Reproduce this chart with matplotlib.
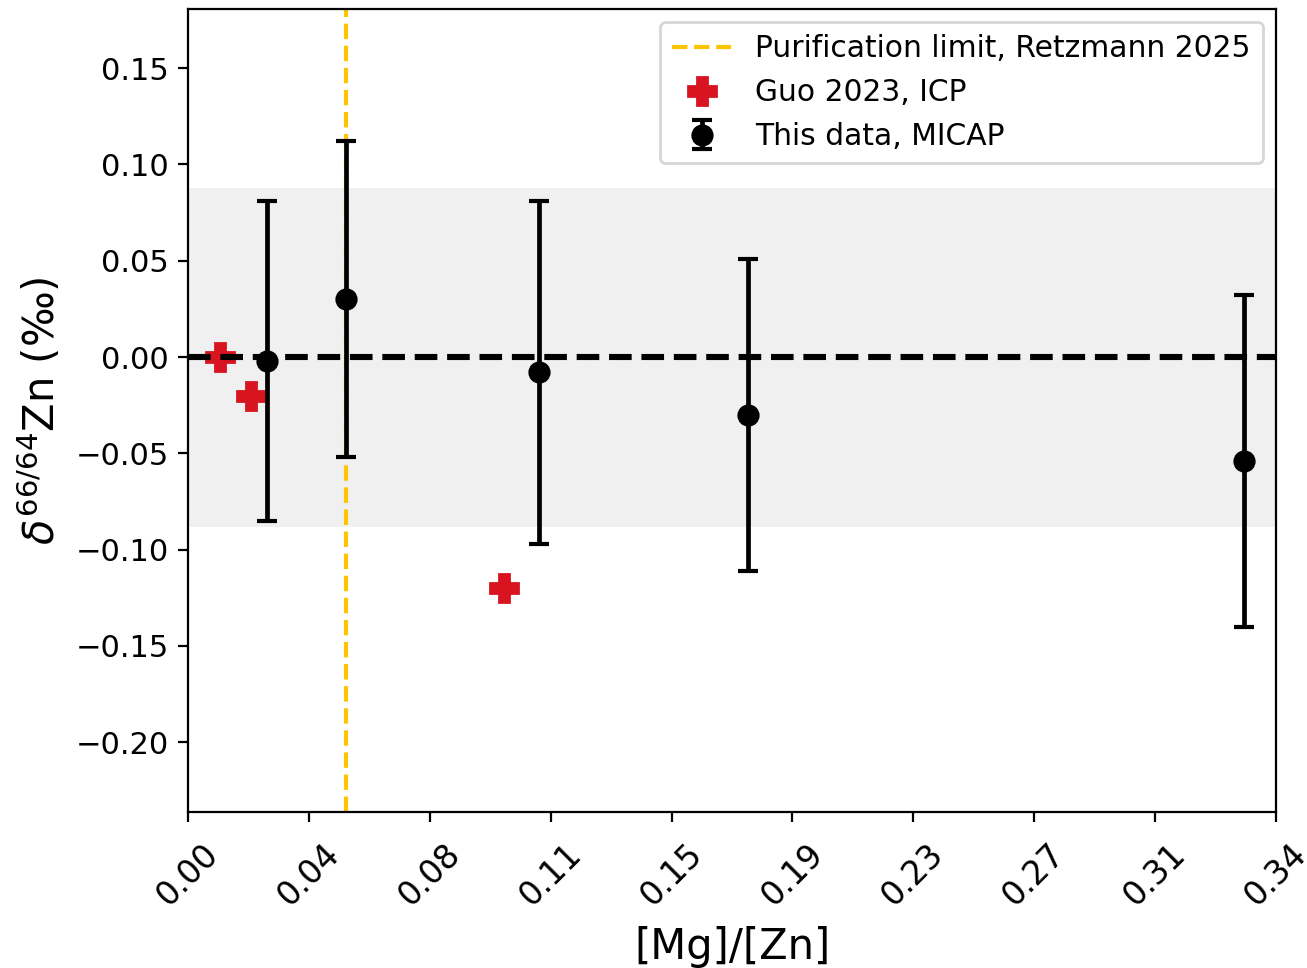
import matplotlib
matplotlib.use("Agg")
import matplotlib.pyplot as plt
import numpy as np

# MICAP measurements: Mg/Zn ratio, delta 66/64 Zn and 2SD
micap_ratio = [0.025, 0.050, 0.111, 0.177, 0.334]
micap_delta = [-0.002, 0.030, -0.008, -0.030, -0.054]
micap_err = [0.083, 0.082, 0.089, 0.081, 0.086]

# Guo et al. 2023 (ICP)
guo_ratio = [0.010, 0.020, 0.100]
guo_delta = [0.000, -0.020, -0.120]

purification_limit = 0.05
band_halfwidth = 0.088
x_max = 0.344

fig = plt.figure(figsize=(1307 / 200, 968 / 200), dpi=200)
ax = fig.add_axes([188 / 1307, 1 - 812 / 968, (1276 - 188) / 1307, (812 - 9) / 968])

ax.axhspan(-band_halfwidth, band_halfwidth, color="#f0f0f0", zorder=0, lw=0)
ax.axvline(purification_limit, color="#ffc400", ls="--", lw=1.5,
           label="Purification limit, Retzmann 2025", zorder=1)
ax.plot(guo_ratio, guo_delta, ls="none", marker="P", ms=10, color="#d7141f",
        label="Guo 2023, ICP", zorder=2)
ax.axhline(0, color="black", ls="--", lw=2.2, zorder=3)
ax.errorbar(micap_ratio, micap_delta, yerr=micap_err, fmt="o", color="black",
            ms=7, elinewidth=1.7, capsize=3.6, capthick=1.5,
            label="This data, MICAP", zorder=4)

ax.set_xlim(0, x_max)
ax.set_ylim(-0.2362, 0.1807)
ax.set_xticks(np.linspace(0, x_max, 10))
ax.set_xticklabels([f"{t:.2f}" for t in np.linspace(0, x_max, 10)], rotation=45)
ax.set_yticks([-0.20, -0.15, -0.10, -0.05, 0.00, 0.05, 0.10, 0.15])
ax.tick_params(axis="y", labelsize=11)
ax.tick_params(axis="x", labelsize=11.8, pad=5.5)

ax.set_xlabel("[Mg]/[Zn]", fontsize=15, labelpad=5)
ax.set_ylabel(r"$\delta^{66/64}$Zn (‰)", fontsize=15)
ax.legend(loc="upper right", fontsize=10.7, borderaxespad=0.45)

fig.savefig("out.png", dpi=200)
